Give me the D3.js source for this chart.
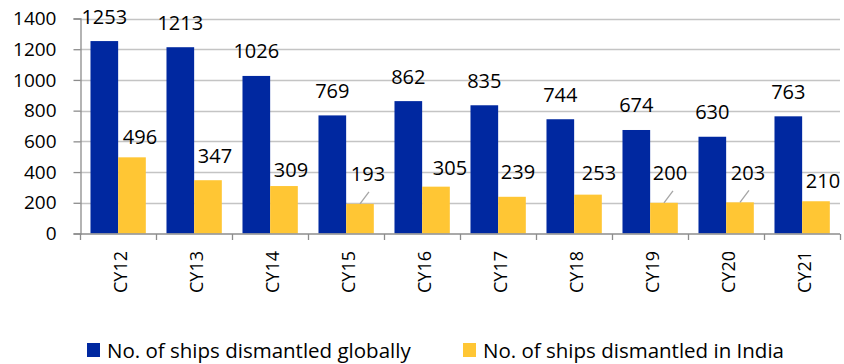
<!DOCTYPE html>
<html>
<head>
<meta charset="utf-8">
<script src="https://cdn.jsdelivr.net/npm/d3@7"></script>
<style>
  html, body { margin: 0; padding: 0; background: #ffffff; }
  svg { display: block; }
  text { font-family: "Open Sans", "Liberation Sans", Arial, sans-serif; fill: #000; }
</style>
</head>
<body>
<div id="chart"></div>
<script>
// ---- data ----
const categories = ["CY12", "CY13", "CY14", "CY15", "CY16", "CY17", "CY18", "CY19", "CY20", "CY21"];
const globalShips = [1253, 1213, 1026, 769, 862, 835, 744, 674, 630, 763];
const indiaShips = [496, 347, 309, 193, 305, 239, 253, 200, 203, 210];
const seriesNames = ["No. of ships dismantled globally", "No. of ships dismantled in India"];
const yTicks = [0, 200, 400, 600, 800, 1000, 1200, 1400];

// ---- layout (label placement for India series, as in the reference) ----
const indiaLabelDx = [8, 7, 7, 8, 14, 6, 11, 6, 8, 7];
const indiaLabelRise = [21, 25, 17, 30, 19, 25, 22, 30, 30, 21];
const indiaLeader = [false, false, false, true, false, false, false, true, true, false];

const W = 844, H = 364;
const colors = ["#0028A0", "#FFC634"];
const FONT = "'Open Sans', 'Liberation Sans', Arial, sans-serif";

const svg = d3.select("#chart").append("svg").attr("width", W).attr("height", H);

const y = d3.scaleLinear().domain([0, 1400]).range([233.5, 18.5]);
const x0 = d3.scaleBand().domain(categories).range([80, 840]).padding(0);
const bw = x0.bandwidth();
const x1 = d3.scaleBand().domain([0, 1]).range([bw * 0.138, bw * 0.866]).padding(0);

// grid lines
svg.append("g").selectAll("line").data(yTicks.filter(d => d > 0)).join("line")
  .attr("x1", 80).attr("x2", 840)
  .attr("y1", d => Math.round(y(d)) + 0.5).attr("y2", d => Math.round(y(d)) + 0.5)
  .attr("stroke", "#c4c4c4").attr("stroke-width", 1.3);

// bars
const groups = svg.append("g").selectAll("g").data(categories).join("g")
  .attr("transform", d => `translate(${x0(d)},0)`);

groups.append("rect")
  .attr("x", x1(0)).attr("width", x1.bandwidth())
  .attr("y", (d, i) => y(globalShips[i])).attr("height", (d, i) => y(0) - y(globalShips[i]))
  .attr("fill", colors[0]);
groups.append("rect")
  .attr("x", x1(1)).attr("width", x1.bandwidth())
  .attr("y", (d, i) => y(indiaShips[i])).attr("height", (d, i) => y(0) - y(indiaShips[i]))
  .attr("fill", colors[1]);

// y axis
const yAxis = d3.axisLeft(y).tickValues(yTicks).tickSize(7).tickPadding(17).tickFormat(d3.format("d"));
const gy = svg.append("g").attr("transform", "translate(80.5,0)").call(yAxis);
gy.select(".domain").attr("stroke", "#8c8c8c").attr("stroke-width", 1.3);
gy.selectAll(".tick line").attr("stroke", "#8c8c8c").attr("stroke-width", 1.3);
gy.selectAll(".tick text").style("font-size", "19px").style("font-family", FONT).attr("fill", "#000");

// x axis line with ticks at category boundaries
svg.append("line").attr("x1", 80).attr("x2", 840).attr("y1", 234).attr("y2", 234)
  .attr("stroke", "#8c8c8c").attr("stroke-width", 1.3);
const bounds = categories.map(c => x0(c)).concat([x0(categories[categories.length - 1]) + bw]);
svg.append("g").selectAll("line").data(bounds).join("line")
  .attr("x1", d => Math.round(d) + 0.5).attr("x2", d => Math.round(d) + 0.5)
  .attr("y1", 234).attr("y2", 240)
  .attr("stroke", "#8c8c8c").attr("stroke-width", 1.3);

// category labels (rotated)
svg.append("g").selectAll("text").data(categories).join("text")
  .attr("transform", d => `translate(${x0(d) + bw / 2 + 2},251) rotate(-90)`)
  .attr("text-anchor", "end").attr("dominant-baseline", "central")
  .style("font-size", "18px")
  .text(d => d);

// data labels: global
groups.append("text")
  .attr("x", x1(0) + x1.bandwidth() / 2)
  .attr("y", (d, i) => y(globalShips[i]) - 25)
  .attr("text-anchor", "middle").attr("dominant-baseline", "central")
  .style("font-size", "20px")
  .text((d, i) => globalShips[i]);

// data labels: India
groups.append("text")
  .attr("x", (d, i) => x1(1) + x1.bandwidth() / 2 + indiaLabelDx[i])
  .attr("y", (d, i) => y(indiaShips[i]) - indiaLabelRise[i])
  .attr("text-anchor", "middle").attr("dominant-baseline", "central")
  .style("font-size", "20px")
  .text((d, i) => indiaShips[i]);

// leader lines
groups.filter((d, i) => indiaLeader[i]).append("line")
  .attr("x1", x1(1) + x1.bandwidth() / 2)
  .attr("y1", d => y(indiaShips[categories.indexOf(d)]))
  .attr("x2", x1(1) + x1.bandwidth() / 2 + 9)
  .attr("y2", d => y(indiaShips[categories.indexOf(d)]) - 12)
  .attr("stroke", "#a6a6a6").attr("stroke-width", 1.3);

// legend
const legendX = [87, 463];
const lg = svg.append("g").selectAll("g").data(seriesNames).join("g")
  .attr("transform", (d, i) => `translate(${legendX[i]},343)`);
lg.append("rect").attr("width", 13).attr("height", 14).attr("fill", (d, i) => colors[i]);
lg.append("text").attr("x", 20).attr("y", 7).attr("dominant-baseline", "central")
  .style("font-size", "20.5px").text(d => d);
</script>
</body>
</html>
